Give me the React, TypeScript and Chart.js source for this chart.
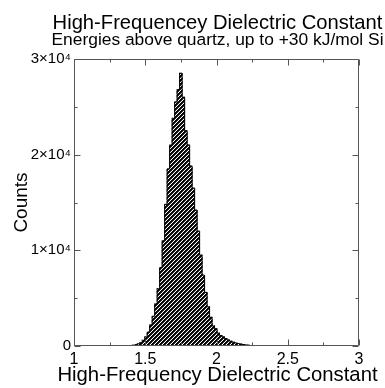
import React, { useEffect, useRef } from "react";
import { Chart, registerables } from "chart.js";

Chart.register(...registerables);

const TITLE = "High-Frequencey Dielectric Constant";
const SUBTITLE = "Energies above quartz, up to +30 kJ/mol Si";
const X_LABEL = "High-Frequency Dielectric Constant";
const Y_LABEL = "Counts";

// histogram bin centres (bin width 0.0175)
const BIN_CENTERS = [
  1.3475, 1.365, 1.3825, 1.4, 1.4175, 1.435, 1.4525, 1.47, 1.4875, 1.505,
  1.5225, 1.54, 1.5575, 1.575, 1.5925, 1.61, 1.6275, 1.645, 1.6625, 1.68,
  1.6975, 1.715, 1.7325, 1.75, 1.7675, 1.785, 1.8025, 1.82, 1.8375, 1.855,
  1.8725, 1.89, 1.9075, 1.925, 1.9425, 1.96, 1.9775, 1.995, 2.0125, 2.03,
  2.0475, 2.065, 2.0825, 2.1, 2.1175, 2.135, 2.1525, 2.17, 2.1875, 2.205,
  2.2225, 2.24, 2.2575, 2.275, 2.2925, 2.31,
];
const COUNTS = [
  8, 15, 30, 50, 80, 130, 220, 350, 600, 950,
  1450, 2200, 3100, 4400, 6000, 8200, 11000, 14800, 18500, 21000,
  23800, 25500, 26800, 28500, 26000, 22500, 21000, 18800, 16500, 14200,
  12000, 9500, 7400, 5600, 4100, 3000, 2100, 1800, 1350, 1100,
  950, 780, 630, 500, 400, 320, 260, 200, 150, 110,
  80, 55, 35, 20, 12, 6,
];

const X_MIN = 1;
const X_MAX = 3;
const Y_MIN = 0;
const Y_MAX = 30000;
const X_MAJOR = [1, 1.5, 2, 2.5, 3];
const X_MINOR = [1.25, 1.75, 2.25, 2.75];
const Y_MAJOR = [0, 10000, 20000, 30000];
const Y_MINOR = [5000, 15000, 25000];
const Y_TICK_LABELS: Record<number, string> = {
  0: "0",
  10000: "1×10⁴",
  20000: "2×10⁴",
  30000: "3×10⁴",
};

const FONT = "'Liberation Sans', Arial, Helvetica, sans-serif";

function makePattern(): CanvasPattern | string {
  const c = document.createElement("canvas");
  c.width = 4;
  c.height = 4;
  const g = c.getContext("2d");
  if (!g) return "#444";
  g.fillStyle = "#fff";
  g.fillRect(0, 0, 4, 4);
  for (let r = 0; r < 4; r++) {
    g.fillStyle = "#000";
    g.fillRect((3 - r + 4) % 4, r, 1, 1);
    g.fillRect((4 - r + 4) % 4, r, 1, 1);
    g.fillStyle = "#333";
    g.fillRect((5 - r + 4) % 4, r, 1, 1);
  }
  const p = g.createPattern(c, "repeat");
  return p || "#444";
}

const framePlugin = {
  id: "frameTicks",
  afterDatasetsDraw(chart: any) {
    const { ctx, chartArea } = chart;
    const xs = chart.scales.x;
    const ys = chart.scales.y;
    const l = Math.round(chartArea.left) + 0.5;
    const r = Math.round(chartArea.right) - 0.5;
    const t = Math.round(chartArea.top) + 0.5;
    const b = Math.round(chartArea.bottom) - 0.5;
    ctx.save();
    ctx.strokeStyle = "#555";
    ctx.lineWidth = 1;
    ctx.beginPath();
    ctx.rect(l, t, r - l, b - t);
    const xt = (v: number, len: number) => {
      const px = Math.round(xs.getPixelForValue(v)) + 0.5;
      ctx.moveTo(px, b);
      ctx.lineTo(px, b - len);
      ctx.moveTo(px, t);
      ctx.lineTo(px, t + len);
    };
    const yt = (v: number, len: number) => {
      const py = Math.round(ys.getPixelForValue(v)) + 0.5;
      ctx.moveTo(l, py);
      ctx.lineTo(l + len, py);
      ctx.moveTo(r, py);
      ctx.lineTo(r - len, py);
    };
    X_MAJOR.forEach((v) => xt(v, 6));
    X_MINOR.forEach((v) => xt(v, 3));
    Y_MAJOR.forEach((v) => yt(v, 6));
    Y_MINOR.forEach((v) => yt(v, 3));
    ctx.stroke();
    ctx.restore();
  },
};

const labelsPlugin = {
  id: "labels",
  afterDraw(chart: any) {
    const { ctx, chartArea } = chart;
    const cx = (chartArea.left + chartArea.right) / 2 + 1;
    const cy = (chartArea.top + chartArea.bottom) / 2;
    ctx.save();
    ctx.fillStyle = "#000";
    ctx.textAlign = "center";
    ctx.textBaseline = "alphabetic";
    ctx.font = `20.2px ${FONT}`;
    ctx.fillText(TITLE, cx, 29);
    ctx.font = `17.4px ${FONT}`;
    ctx.fillText(SUBTITLE, cx, 45);
    ctx.font = `20.3px ${FONT}`;
    ctx.fillText(X_LABEL, cx, 381);
    ctx.translate(27, cy);
    ctx.rotate(-Math.PI / 2);
    ctx.font = `19px ${FONT}`;
    ctx.fillText(Y_LABEL, 0, 0);
    ctx.restore();
  },
};

export default function App() {
  const ref = useRef<HTMLCanvasElement | null>(null);

  useEffect(() => {
    if (!ref.current) return;
    const pattern = makePattern();
    const points = BIN_CENTERS.map((x, i) => ({ x, y: COUNTS[i] }));
    const chart = new Chart(ref.current, {
      type: "bar",
      data: {
        datasets: [
          {
            type: "line",
            data: points,
            stepped: "middle",
            borderColor: "#000",
            borderWidth: 1,
            pointRadius: 0,
            fill: false,
            order: 0,
          } as any,
          {
            type: "bar",
            data: points,
            backgroundColor: pattern as any,
            borderWidth: 0,
            barPercentage: 1,
            categoryPercentage: 1,
            inflateAmount: 0.5,
            order: 1,
          } as any,
        ],
      },
      options: {
        responsive: false,
        animation: false,
        events: [],
        layout: { padding: { left: 0, right: 26, top: 59, bottom: 0 } },
        plugins: {
          legend: { display: false },
          tooltip: { enabled: false },
          title: { display: false },
          subtitle: { display: false },
        },
        scales: {
          x: {
            type: "linear",
            min: X_MIN,
            max: X_MAX,
            offset: false,
            grid: { display: false, drawTicks: false },
            border: { display: false },
            ticks: {
              stepSize: 0.5,
              padding: 4,
              color: "#000",
              maxRotation: 0,
              autoSkip: false,
              font: { family: FONT, size: 16 },
              callback: (v: any) => String(Number(v)),
            },
            title: { display: false },
            afterFit: (s: any) => {
              s.height = 42;
            },
          },
          y: {
            type: "linear",
            min: Y_MIN,
            max: Y_MAX,
            grid: { display: false, drawTicks: false },
            border: { display: false },
            ticks: {
              stepSize: 10000,
              padding: 3,
              color: "#000",
              font: { family: FONT, size: 15 },
              callback: (v: any) => Y_TICK_LABELS[Number(v)] ?? "",
            },
            title: { display: false },
            afterFit: (s: any) => {
              s.width = 74;
            },
          },
        },
      } as any,
      plugins: [framePlugin, labelsPlugin],
    });
    return () => chart.destroy();
  }, []);

  return (
    <div style={{ position: "absolute", left: 0, top: 0, width: 385, height: 388, background: "#fff" }}>
      <canvas ref={ref} width={385} height={388} style={{ display: "block" }} />
    </div>
  );
}
